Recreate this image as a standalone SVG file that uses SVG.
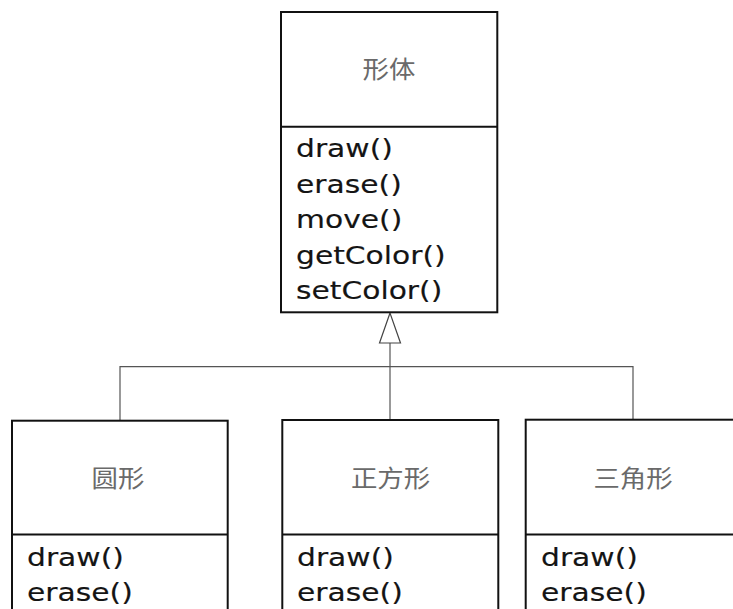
<svg xmlns="http://www.w3.org/2000/svg" width="733" height="609" viewBox="0 0 733 609">
<style>
.box{fill:#fff;stroke:#111;stroke-width:2}
.div{stroke:#111;stroke-width:2}
.conn{fill:none;stroke:#555;stroke-width:1.2}
.tri{fill:#fff;stroke:#444;stroke-width:1.2}
.m{font-family:"DejaVu Sans","Verdana",sans-serif;font-size:24px;fill:#141414;stroke:#141414;stroke-width:0.15}
.t{font-family:"Noto Sans CJK SC","Noto Sans CJK JP",sans-serif;font-size:24px;fill:#6a6a6a;text-anchor:middle}
</style>
<rect width="733" height="609" fill="#fff"/>
<g id="connectors">
<polyline class="conn" points="120,420 120,366.7 633,366.7 633,420"/>
<line class="conn" x1="390" y1="343" x2="390" y2="420"/>
<polygon class="tri" points="390,313 379.5,343 400.5,343"/>
</g>
<g id="shape">
<rect class="box" x="281" y="12" width="216.3" height="300.3"/>
<line class="div" x1="281" y1="126.7" x2="497.3" y2="126.7"/>
<text class="t" transform="translate(389,78) scale(1.1,1)">形体</text>
<text class="m" transform="translate(296,157) scale(1.24,1)">draw()</text>
<text class="m" transform="translate(296,192.5) scale(1.24,1)">erase()</text>
<text class="m" transform="translate(296,228) scale(1.24,1)">move()</text>
<text class="m" transform="translate(296,263.5) scale(1.24,1)">getColor()</text>
<text class="m" transform="translate(296,299) scale(1.24,1)">setColor()</text>
</g>
<g id="circle">
<rect class="box" x="12" y="420.7" width="215.7" height="200"/>
<line class="div" x1="12" y1="534.5" x2="227.7" y2="534.5"/>
<text class="t" transform="translate(118,487) scale(1.1,1)">圆形</text>
<text class="m" transform="translate(27,565.5) scale(1.24,1)">draw()</text>
<text class="m" transform="translate(27,601) scale(1.24,1)">erase()</text>
</g>
<g id="square">
<rect class="box" x="282.3" y="420" width="216" height="200"/>
<line class="div" x1="282.3" y1="534.5" x2="498.3" y2="534.5"/>
<text class="t" transform="translate(390.5,487) scale(1.1,1)">正方形</text>
<text class="m" transform="translate(297,565.5) scale(1.24,1)">draw()</text>
<text class="m" transform="translate(297,601) scale(1.24,1)">erase()</text>
</g>
<g id="triangle">
<rect class="box" x="525.7" y="419.7" width="216" height="200"/>
<line class="div" x1="525.7" y1="534.5" x2="741.7" y2="534.5"/>
<text class="t" transform="translate(633,487) scale(1.1,1)">三角形</text>
<text class="m" transform="translate(541,565.5) scale(1.24,1)">draw()</text>
<text class="m" transform="translate(541,601) scale(1.24,1)">erase()</text>
</g>
</svg>
